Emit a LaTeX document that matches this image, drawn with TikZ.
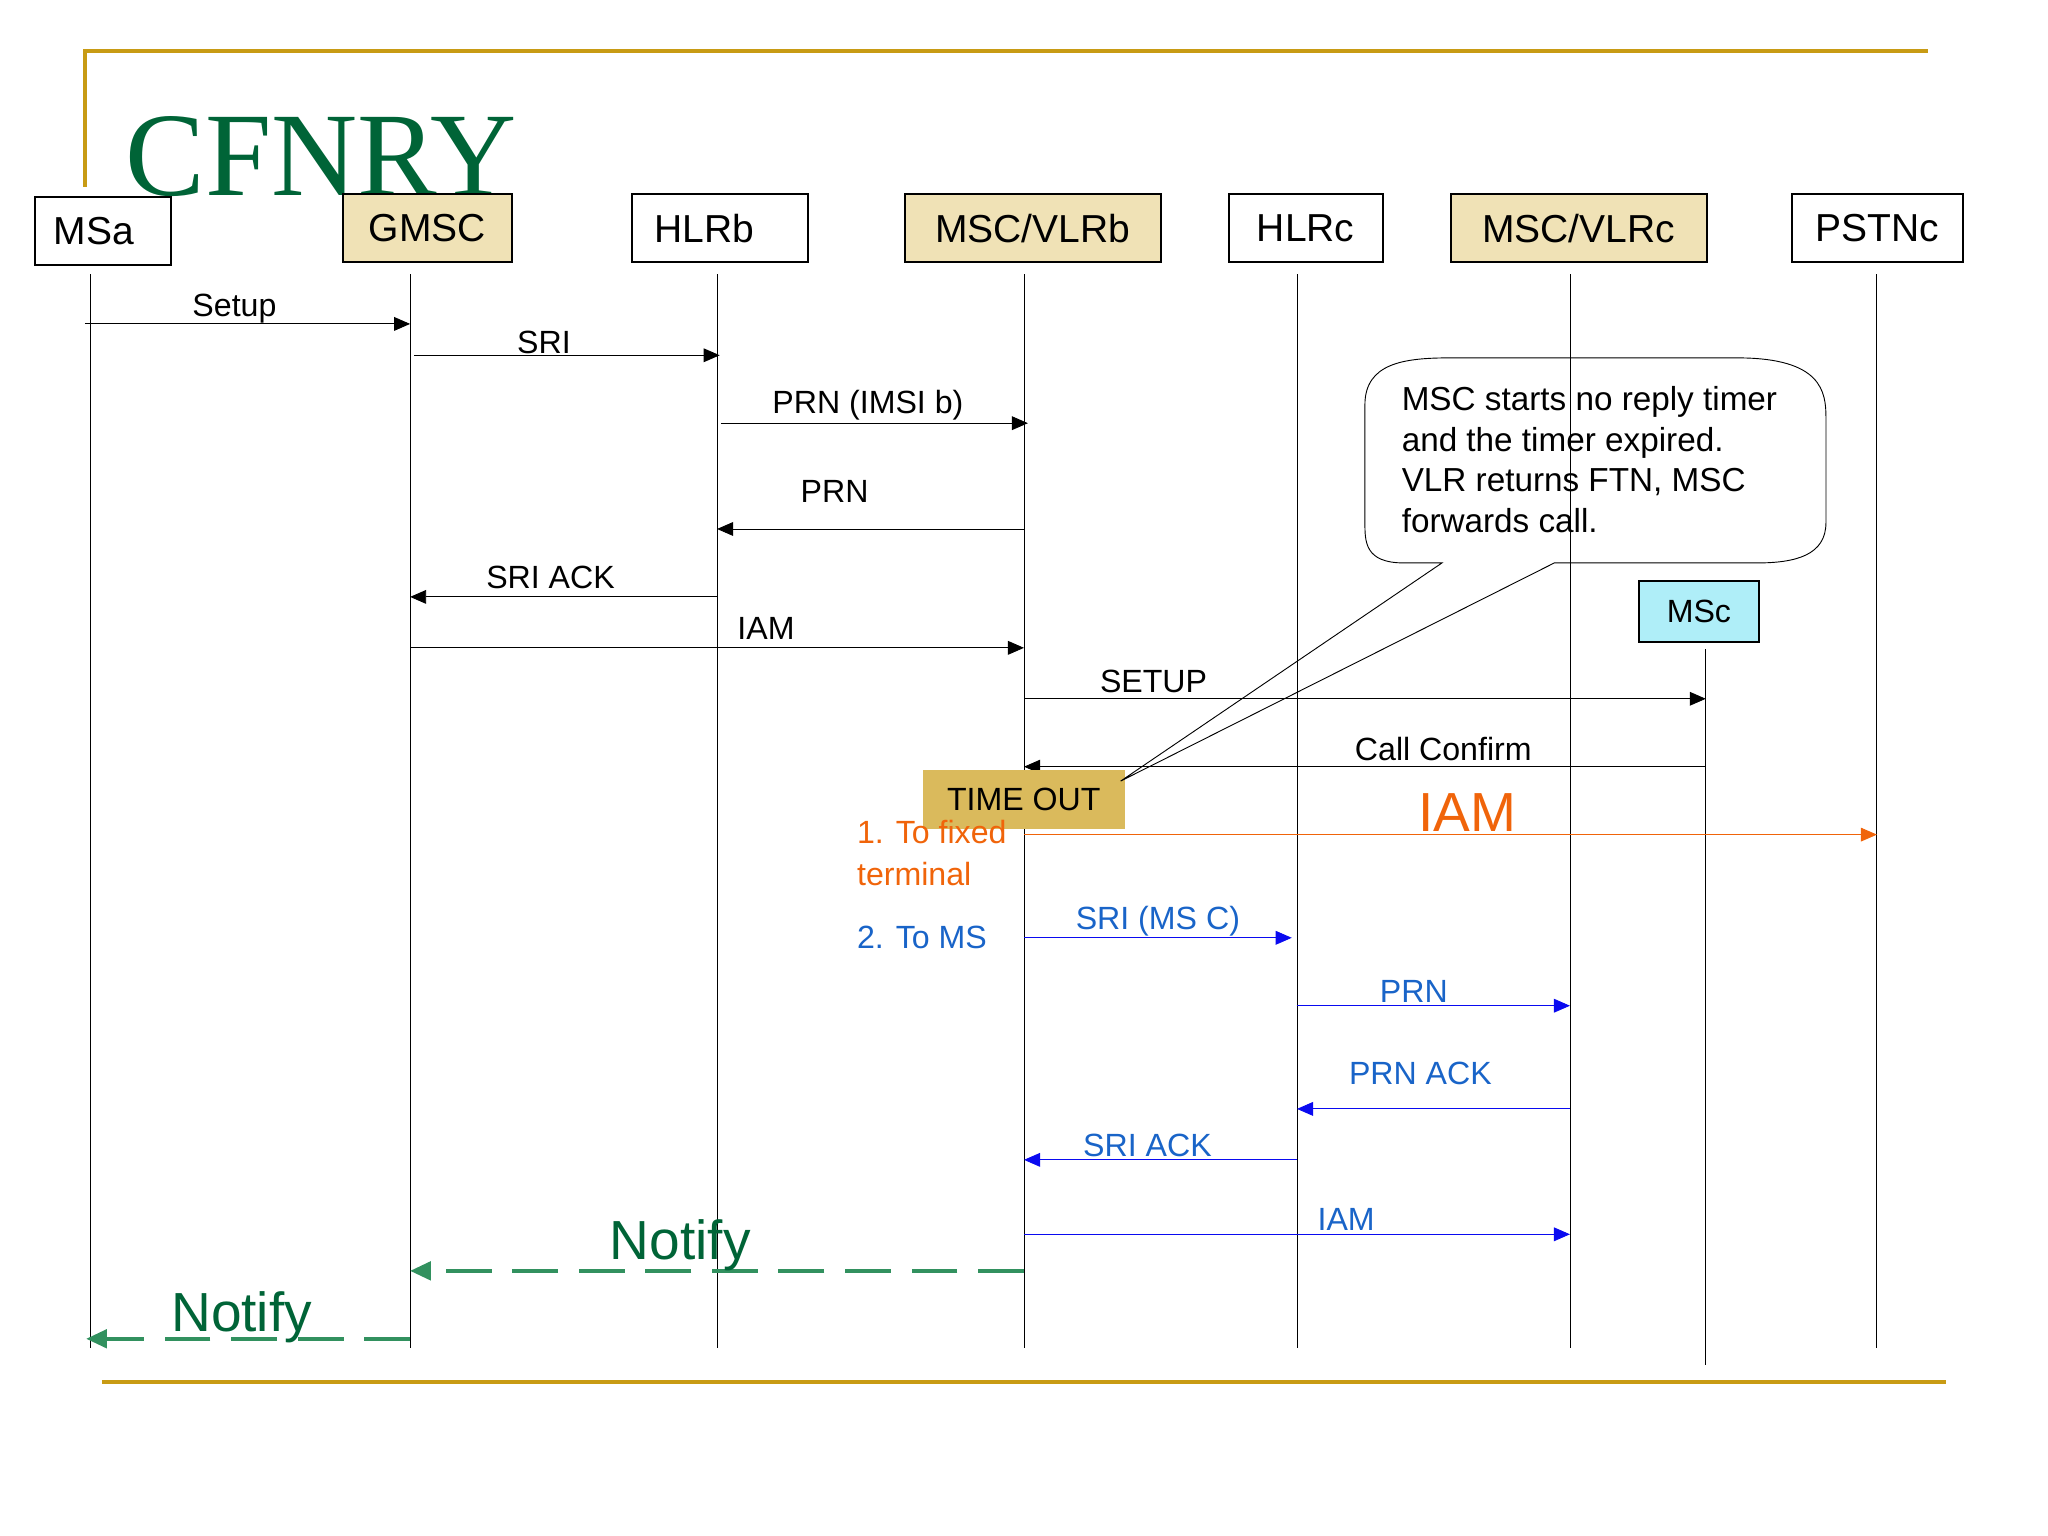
\documentclass[tikz,border=0pt]{standalone}
\usepackage{fontspec}
\setmainfont{Liberation Sans}
\usetikzlibrary{arrows.meta}
\definecolor{gold}{RGB}{200,155,20}
\definecolor{tan}{RGB}{240,226,182}
\definecolor{tgreen}{RGB}{0,100,55}
\definecolor{ngreen}{RGB}{50,145,95}
\definecolor{orng}{RGB}{240,100,10}
\definecolor{bline}{RGB}{10,10,240}
\definecolor{btext}{RGB}{25,100,200}
\definecolor{cyanbox}{RGB}{175,238,248}
\definecolor{tobox}{RGB}{218,186,92}
\begin{document}
\begin{tikzpicture}[x=0.02cm,y=-0.02cm,
 ent/.style={draw,thick,minimum height=1.04cm,font=\fontsize{17}{20}\selectfont,anchor=north west},
 life/.style={thin},
 msg/.style={-{Triangle[length=7pt,width=6pt]},thin},
 bmsg/.style={msg,draw=bline,fill=bline},
 lbl/.style={font=\fontsize{14}{16}\selectfont},
 blbl/.style={lbl,text=btext},
 nt/.style={dashed,dash pattern=on 20pt off 9pt,ngreen,line width=1.6pt,-{Triangle[length=9pt,width=8pt]}},
 ntl/.style={font=\fontsize{24}{28}\selectfont,text=tgreen}]
\useasboundingbox (0,0) rectangle (1568,1176);
\draw[gold,line width=1.6pt] (65,143) -- (65,39) -- (1476,39);
\draw[gold,line width=1.6pt] (78,1058) -- (1490,1058);
\node[font=\fontsize{52}{56}\selectfont\fontspec{Liberation Serif},text=tgreen,anchor=west] (title) at (90,120) {CFNRY};
\node[ent,minimum width=2.08cm,text width=1.5cm,align=left] (msa) at (26,150) {MSa};
\node[ent,fill=tan,minimum width=2.58cm] (gmsc) at (262,148) {GMSC};
\node[ent,minimum width=2.7cm,text width=2.0cm,align=left] (hlrb) at (483,148) {HLRb};
\node[ent,fill=tan,minimum width=3.92cm] (mscb) at (692,148) {MSC/VLRb};
\node[ent,minimum width=2.36cm] (hlrc) at (940,148) {HLRc};
\node[ent,fill=tan,minimum width=3.92cm] (mscc) at (1110,148) {MSC/VLRc};
\node[ent,minimum width=2.62cm] (pstn) at (1371,148) {PSTNc};
\node[ent,fill=cyanbox,minimum width=1.84cm,minimum height=0.94cm,font=\fontsize{14}{16}\selectfont] (msc) at (1254,444) {MSc};
% lifelines
\foreach \n/\x in {a/69,b/314,c/549,d/784,e/993,f/1202,g/1437}{
 \coordinate (t\n) at (\x,210); \coordinate (b\n) at (\x,1032);
 \draw[life] (t\n) -- (b\n);}
\coordinate (th) at (1306,497); \coordinate (bh) at (1306,1045);
\draw[life] (th) -- (bh);
% messages
\newcommand\mm[6]{\coordinate (s#6) at (#1,#3); \coordinate (e#6) at (#2,#3);}
\mm{65}{314}{248}{}{}{1}\draw[msg] (s1) -- (e1) node[lbl,midway,above=-3pt,xshift=-0.2cm] {Setup};
\mm{317}{551}{272}{}{}{2}\draw[msg] (s2) -- (e2) node[lbl,midway,above=-3pt,xshift=-0.35cm] {SRI};
\mm{552}{787}{324}{}{}{3}\draw[msg] (s3) -- (e3) node[lbl,midway,above=-2pt,xshift=-0.1cm] {PRN (IMSI b)};
\mm{784}{549}{405}{}{}{4}\draw[msg] (s4) -- (e4) node[lbl,midway,above=8pt,xshift=-0.55cm] {PRN};
\mm{549}{314}{457}{}{}{5}\draw[msg] (s5) -- (e5) node[lbl,midway,above=0pt,xshift=-0.2cm] {SRI ACK};
\mm{314}{784}{496}{}{}{6}\draw[msg] (s6) -- (e6) node[lbl,midway,above=0pt,xshift=0.75cm] {IAM};
\mm{784}{1306}{535}{}{}{7}\draw[msg] (s7) -- (e7) node[lbl,pos=0.19,above=-1pt] {SETUP};
\mm{1306}{784}{587}{}{}{8}\draw[msg] (s8) -- (e8) node[lbl,pos=0.385,above=-1pt] {Call Confirm};
\mm{784}{1437}{639}{}{}{9}\draw[msg,draw=orng,fill=orng] (s9) -- (e9) node[pos=0.52,above=-2pt,font=\fontsize{24}{28}\selectfont,text=orng] {IAM};
\mm{784}{989}{718}{}{}{10}\draw[bmsg] (s10) -- (e10) node[blbl,midway,above=-3pt] {SRI (MS C)};
\mm{993}{1202}{770}{}{}{11}\draw[bmsg] (s11) -- (e11) node[blbl,midway,above=-2pt,xshift=-0.3cm] {PRN};
\mm{1202}{993}{849}{}{}{12}\draw[bmsg] (s12) -- (e12) node[blbl,midway,above=7pt,xshift=-0.2cm] {PRN ACK};
\mm{993}{784}{888}{}{}{13}\draw[bmsg] (s13) -- (e13) node[blbl,midway,above=-2pt,xshift=-0.2cm] {SRI ACK};
\mm{784}{1202}{945}{}{}{14}\draw[bmsg] (s14) -- (e14) node[blbl,pos=0.59,above=-2pt] {IAM};
\mm{784}{314}{973}{}{}{15}\draw[nt] (s15) -- (e15) node[ntl,pos=0.56,above=-4pt] {Notify};
\mm{314}{66}{1025}{}{}{16}\draw[nt] (s16) -- (e16) node[ntl,pos=0.52,above=-6pt] {Notify};
% time out
\node[fill=tobox,minimum width=3.1cm,minimum height=0.9cm,anchor=north west,font=\fontsize{14}{16}\selectfont] (to) at (706,589) {TIME OUT};
\node[font=\fontsize{14}{18}\selectfont,text=orng,align=left,anchor=north west] (fx) at (650,622) {1. To fixed\\terminal};
\node[font=\fontsize{14}{16}\selectfont,text=btext,anchor=west] (ms) at (650,718) {2. To MS};
% callout
\coordinate (tip) at (858,598);
\draw[thin] (1104,431) -- (1075,431) .. controls (1045,431) and (1045,415) .. (1045,400) -- (1045,310) .. controls (1045,278) and (1075,274) .. (1110,274) -- (1330,274) .. controls (1395,274) and (1398,300) .. (1398,320) -- (1398,400) .. controls (1398,425) and (1375,431) .. (1345,431) -- (1190,431) -- (tip) -- cycle;
\node[font=\fontsize{14.5}{17.6}\selectfont,align=left,anchor=north west] (ct) at (1067,290) {MSC starts no reply timer\\and the timer expired.\\VLR returns FTN, MSC\\forwards call.};
\end{tikzpicture}
\end{document}
